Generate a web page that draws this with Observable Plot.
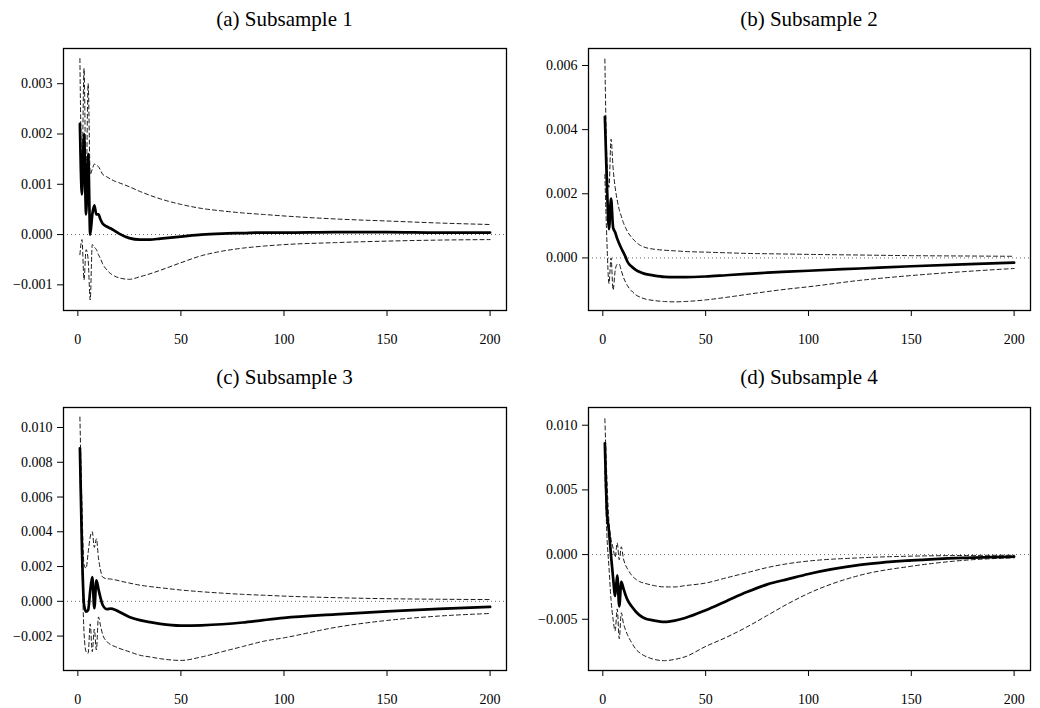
<!DOCTYPE html>
<html>
<head>
<meta charset="utf-8">
<script src="https://cdn.jsdelivr.net/npm/d3@7"></script>
<script src="https://cdn.jsdelivr.net/npm/@observablehq/plot@0.6"></script>
<style>
  body { margin: 0; background: #fff; }
  #root { position: relative; width: 1040px; height: 708px; font-family: "Liberation Serif", "Times New Roman", serif; }
  .title { position: absolute; font-size: 21px; line-height: 24px; text-align: center; color: #000; white-space: nowrap; }
  .panel { position: absolute; }
</style>
</head>
<body>
<div id="root"></div>
<script>
// ---- data ----
const horizon = [1,2,3,4,5,6,7,8,9,10,11,12,14,16,18,20,25,30,35,40,50,60,70,80,90,100,125,150,175,200];
const xTicks = [0, 50, 100, 150, 200];
const titles = ["(a) Subsample 1", "(b) Subsample 2", "(c) Subsample 3", "(d) Subsample 4"];

// Subsample 1
const estA = [0.0022,0.0008,0.0020,0.0004,0.0016,0.0000,0.0004,0.00058,0.0004,0.0004,0.0003,0.00022,0.00016,0.00012,0.00007,0.00002,-0.00007,-0.0001,-0.0001,-0.00008,-0.00004,0.0,0.00002,0.00003,0.00004,0.00004,0.00005,0.00005,0.00004,0.00004];
const upA  = [0.0035,0.0012,0.0033,0.0009,0.0030,0.0012,0.0013,0.0014,0.00138,0.00135,0.00128,0.0012,0.00115,0.0011,0.00106,0.00103,0.00095,0.00086,0.00078,0.00071,0.0006,0.00052,0.00047,0.00043,0.0004,0.00037,0.00031,0.00027,0.00023,0.0002];
const loA  = [-0.0004,-0.0001,-0.0009,-0.0003,-0.0005,-0.0013,-0.0002,-0.00025,-0.0003,-0.0004,-0.00048,-0.00058,-0.0007,-0.00078,-0.00083,-0.00086,-0.00089,-0.00084,-0.00078,-0.00071,-0.00056,-0.00042,-0.00033,-0.00027,-0.00023,-0.0002,-0.00016,-0.00013,-0.00011,-0.0001];
const yTicksA = [-0.001, 0.000, 0.001, 0.002, 0.003];

// Subsample 2
const estB = [0.0044,0.0023,0.0009,0.00185,0.00095,0.0008,0.0006,0.00044,0.0003,0.00017,0.00004,-0.00012,-0.00027,-0.00037,-0.00044,-0.00049,-0.00055,-0.00059,-0.0006,-0.0006,-0.00058,-0.00054,-0.0005,-0.00046,-0.00043,-0.0004,-0.00033,-0.00026,-0.0002,-0.00015];
const upB  = [0.0062,0.0030,0.0022,0.0037,0.0028,0.0022,0.0018,0.0015,0.0013,0.0011,0.00095,0.00082,0.00064,0.0005,0.0004,0.00034,0.00027,0.00024,0.00022,0.0002,0.00018,0.00016,0.00014,0.00013,0.00012,0.00011,0.00009,0.00007,0.00006,0.00005];
const loB  = [0.0026,0.0005,-0.0008,0.0000,-0.0010,-0.0004,-0.0002,-0.0002,-0.0004,-0.0006,-0.00075,-0.00087,-0.00103,-0.00115,-0.00122,-0.00127,-0.00133,-0.00136,-0.00137,-0.00136,-0.00131,-0.00123,-0.00114,-0.00105,-0.00097,-0.0009,-0.0007,-0.00055,-0.00043,-0.00033];
const yTicksB = [0.000, 0.002, 0.004, 0.006];

// Subsample 3
const estC = [0.0088,0.0030,-0.0002,-0.0006,-0.0005,0.0006,0.0014,-0.0004,0.0012,0.0007,0.0002,-0.0002,-0.00045,-0.00042,-0.00048,-0.0006,-0.0009,-0.00108,-0.0012,-0.0013,-0.0014,-0.00138,-0.00132,-0.00122,-0.00108,-0.00095,-0.00075,-0.00058,-0.00043,-0.00032];
const upC  = [0.0106,0.0055,0.0021,0.0019,0.0028,0.0037,0.0040,0.0031,0.0036,0.0025,0.0018,0.0014,0.0013,0.00128,0.00124,0.00118,0.00105,0.00093,0.00085,0.00078,0.00065,0.00055,0.00047,0.0004,0.00035,0.0003,0.00021,0.00015,0.00012,0.0001];
const loC  = [0.0078,0.0022,-0.0018,-0.0029,-0.0030,-0.0013,-0.0029,-0.0016,-0.0028,-0.0009,-0.0014,-0.0019,-0.0023,-0.0025,-0.0026,-0.0027,-0.0029,-0.0031,-0.0032,-0.0033,-0.0034,-0.0032,-0.0029,-0.0026,-0.0023,-0.0021,-0.0015,-0.0011,-0.00085,-0.0007];
const yTicksC = [-0.002, 0.000, 0.002, 0.004, 0.006, 0.008, 0.010];

// Subsample 4
const estD = [0.0086,0.0033,0.0018,-0.0001,-0.0018,-0.0032,-0.0016,-0.0040,-0.0021,-0.0026,-0.0031,-0.0035,-0.0040,-0.0044,-0.0047,-0.0049,-0.0051,-0.0052,-0.0051,-0.0049,-0.0043,-0.0036,-0.0029,-0.0023,-0.0019,-0.0015,-0.0008,-0.00045,-0.00025,-0.00015];
const upD  = [0.0105,0.0058,0.0025,0.0012,0.0005,-0.0002,0.0009,-0.0004,0.0006,-0.0003,-0.0008,-0.0011,-0.0016,-0.0019,-0.0021,-0.0022,-0.0024,-0.0025,-0.0025,-0.0024,-0.0022,-0.0018,-0.0014,-0.0010,-0.0007,-0.0005,-0.00025,-0.00012,-0.00007,-0.00005];
const loD  = [0.0065,0.0015,-0.0010,-0.0035,-0.0050,-0.0059,-0.0042,-0.0065,-0.0045,-0.0053,-0.0058,-0.0062,-0.0068,-0.0073,-0.0076,-0.0078,-0.0081,-0.0082,-0.0081,-0.0079,-0.0071,-0.0064,-0.0056,-0.0047,-0.0038,-0.0030,-0.0016,-0.0009,-0.00045,-0.00025];
const yTicksD = [-0.005, 0.000, 0.005, 0.010];

// ---- layout ----
const panels = [
  {title: titles[0], est: estA, up: upA, lo: loA, yTicks: yTicksA, yDomain: [-0.00151, 0.0037],  left: 0,   top: 28,  ml: 63, mr: 14, h: 327, mb: 45, titleTop: 7},
  {title: titles[1], est: estB, up: upB, lo: loB, yTicks: yTicksB, yDomain: [-0.00164, 0.00653], left: 520, top: 28,  ml: 68, mr: 10, h: 327, mb: 45, titleTop: 7},
  {title: titles[2], est: estC, up: upC, lo: loC, yTicks: yTicksC, yDomain: [-0.00398, 0.01115], left: 0,   top: 387, ml: 63, mr: 14, h: 321, mb: 38, titleTop: 365},
  {title: titles[3], est: estD, up: upD, lo: loD, yTicks: yTicksD, yDomain: [-0.00896, 0.01137], left: 520, top: 387, ml: 68, mr: 10, h: 321, mb: 38, titleTop: 365}
];

const root = document.getElementById("root");
const fmt = d3.format(".3f");

for (const p of panels) {
  const rows = horizon.map((h, i) => ({h, est: p.est[i], up: p.up[i], lo: p.lo[i]}));
  const chart = Plot.plot({
    width: 520,
    height: p.h,
    marginTop: 20,
    marginBottom: p.mb,
    marginLeft: p.ml,
    marginRight: p.mr,
    style: {fontFamily: '"Liberation Serif", "Times New Roman", serif', fontSize: "14px", color: "black", background: "transparent", overflow: "visible"},
    x: {domain: [-6.96, 207.96]},
    y: {domain: p.yDomain},
    marks: [
      Plot.ruleY([0], {stroke: "#666", strokeWidth: 1, strokeDasharray: "1,3"}),
      Plot.line(rows, {x: "h", y: "up", stroke: "black", strokeWidth: 0.9, strokeDasharray: "4,3", curve: "monotone-x"}),
      Plot.line(rows, {x: "h", y: "lo", stroke: "black", strokeWidth: 0.9, strokeDasharray: "4,3", curve: "monotone-x"}),
      Plot.line(rows, {x: "h", y: "est", stroke: "black", strokeWidth: 2.7, curve: "monotone-x", strokeLinejoin: "round"}),
      Plot.frame({stroke: "black", strokeWidth: 1.3}),
      Plot.axisX({ticks: xTicks, tickSize: 6, tickPadding: 18, tickFormat: d => String(d), label: null, fontSize: 14}),
      Plot.axisY({ticks: p.yTicks, tickSize: 6, tickPadding: 5, tickFormat: fmt, label: null, fontSize: 14})
    ]
  });
  chart.classList.add("panel");
  chart.style.left = p.left + "px";
  chart.style.top = p.top + "px";
  root.appendChild(chart);

  const t = document.createElement("div");
  t.className = "title";
  t.textContent = p.title;
  const frameLeft = p.left + p.ml;
  const frameRight = p.left + 520 - p.mr;
  t.style.left = frameLeft + "px";
  t.style.width = (frameRight - frameLeft) + "px";
  t.style.top = p.titleTop + "px";
  root.appendChild(t);
}
</script>
</body>
</html>
